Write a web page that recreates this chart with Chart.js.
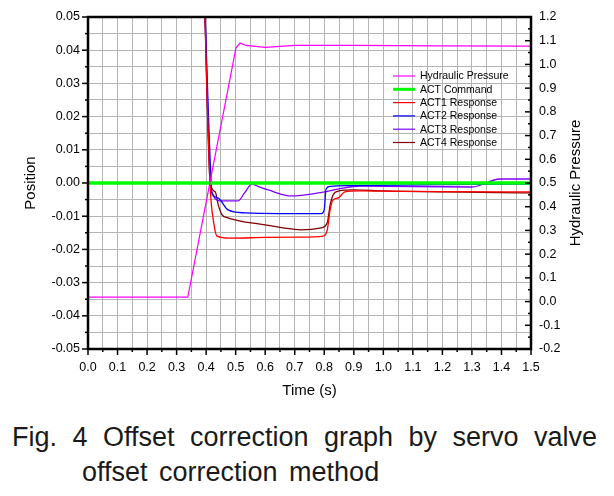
<!DOCTYPE html>
<html>
<head>
<meta charset="utf-8">
<script src="https://cdn.jsdelivr.net/npm/chart.js@4.4.0/dist/chart.umd.min.js"></script>
<style>
body { margin: 0; background: #fff; width: 614px; height: 496px; overflow: hidden; position: relative; font-family: "Liberation Sans", Arial, sans-serif; }
#wrap { position: absolute; left: 0; top: 0; width: 614px; height: 400px; }
.cap { position: absolute; font-size: 27px; color: #1a1a1a; line-height: 35px; }
#l1 { top: 420px; left: 12px; width: 585px; text-align: justify; text-align-last: justify; }
#l2 { top: 455px; left: 82px; white-space: nowrap; word-spacing: 4px; }
</style>
</head>
<body>
<div id="wrap"><canvas id="posChart" width="614" height="400"></canvas></div>
<div class="cap" id="l1">Fig. 4 Offset correction graph by servo valve</div>
<div class="cap" id="l2">offset correction method</div>
<script>
// values
const pressureTime  = [0, 0.338, 0.412, 0.501, 0.515, 0.535, 0.6, 0.7, 0.9, 1.2, 1.5];
const pressureValue = [0.019, 0.019, 0.496, 1.07, 1.09, 1.08, 1.072, 1.08, 1.08, 1.078, 1.077];

const commandTime  = [0, 1.5];
const commandValue = [0, 0];

const act1Time  = [0.393, 0.413, 0.427, 0.437, 0.48, 0.6, 0.718, 0.796, 0.81, 0.82, 0.83, 0.847, 0.87, 0.92, 1.2, 1.5];
const act1Value = [0.06, 0, -0.0127, -0.016, -0.0166, -0.0164, -0.0163, -0.016, -0.0142, -0.008, -0.0051, -0.0045, -0.0027, -0.0024, -0.0026, -0.0027];

const act2Time  = [0.393, 0.417, 0.42, 0.44, 0.474, 0.532, 0.65, 0.79, 0.8, 0.806, 0.82, 0.9, 1.2, 1.5];
const act2Value = [0.06, 0, -0.003, -0.0045, -0.0081, -0.009, -0.0092, -0.0092, -0.008, -0.0018, -0.001, -0.0008, -0.0005, -0.0003];

const act3Time  = [0.393, 0.415, 0.425, 0.447, 0.508, 0.53, 0.555, 0.58, 0.61, 0.69, 0.78, 0.85, 0.92, 1.3, 1.395, 1.5];
const act3Value = [0.06, 0, -0.004, -0.0054, -0.0054, -0.003, -0.0003, -0.0012, -0.0021, -0.0039, -0.003, -0.0018, -0.0009, -0.0012, 0.0012, 0.0012];

const act4Time  = [0.393, 0.414, 0.431, 0.441, 0.454, 0.474, 0.53, 0.6, 0.66, 0.72, 0.79, 0.81, 0.82, 0.83, 0.85, 0.9, 1.0, 1.5];
const act4Value = [0.06, 0, -0.0027, -0.0066, -0.0096, -0.0105, -0.0117, -0.0126, -0.0135, -0.0141, -0.0135, -0.012, -0.0066, -0.0036, -0.0024, -0.0021, -0.0024, -0.003];

const seriesLabels = ['Hydraulic Pressure', 'ACT Command', 'ACT1 Response', 'ACT2 Response', 'ACT3 Response', 'ACT4 Response'];
const seriesColors = ['#ff00ff', '#00ff00', '#ff0000', '#0000ff', '#8000ff', '#800000'];

function pts(xs, ys) {
    return xs.map((x, i) => ({ x: x, y: ys[i] }));
}

const isMajorX = v => Math.round(v * 100) % 10 === 0;
const isMajorY = v => Math.round(v * 1000) % 10 === 0;
const isMajorY1 = v => Math.round(v * 100) % 10 === 0;

const decor = {
    id: 'decor',
    afterDatasetsDraw(chart) {
        const { ctx, chartArea: a, scales } = chart;
        ctx.save();
        ctx.strokeStyle = '#000';
        ctx.lineWidth = 1.5;
        scales.x.ticks.forEach(t => {
            const px = scales.x.getPixelForValue(t.value);
            ctx.beginPath();
            ctx.moveTo(px, a.bottom);
            ctx.lineTo(px, a.bottom + (isMajorX(t.value) ? 6 : 3));
            ctx.stroke();
        });
        scales.y.ticks.forEach(t => {
            const py = scales.y.getPixelForValue(t.value);
            ctx.beginPath();
            ctx.moveTo(a.left, py);
            ctx.lineTo(a.left - (isMajorY(t.value) ? 6 : 3), py);
            ctx.stroke();
        });
        scales.y1.ticks.forEach(t => {
            const py = scales.y1.getPixelForValue(t.value);
            ctx.beginPath();
            ctx.moveTo(a.right, py);
            ctx.lineTo(a.right - (isMajorY1(t.value) ? 6 : 3), py);
            ctx.stroke();
        });
        ctx.lineWidth = 2.5;
        ctx.strokeRect(a.left, a.top, a.right - a.left, a.bottom - a.top);
        ctx.restore();
    },
    afterDraw(chart) {
        const { ctx, chartArea: a } = chart;
        ctx.save();
        // legend
        ctx.font = '10.5px "Liberation Sans", Arial, sans-serif';
        ctx.textBaseline = 'middle';
        ctx.fillStyle = '#000';
        chart.data.datasets.forEach((ds, i) => {
            const y = 76 + i * 13.3;
            ctx.strokeStyle = ds.borderColor;
            ctx.lineWidth = i === 1 ? 3 : 1.2;
            ctx.beginPath();
            ctx.moveTo(393, y);
            ctx.lineTo(415, y);
            ctx.stroke();
            ctx.fillText(ds.label, 420, y + 0.5);
        });
        // axis titles
        ctx.font = '15px "Liberation Sans", Arial, sans-serif';
        ctx.textAlign = 'center';
        ctx.fillText('Time (s)', (a.left + a.right) / 2, 391);
        ctx.translate(31, (a.top + a.bottom) / 2);
        ctx.rotate(-Math.PI / 2);
        ctx.fillText('Position', 0, 0);
        ctx.rotate(Math.PI / 2);
        ctx.translate(576 - 31, 0);
        ctx.rotate(-Math.PI / 2);
        ctx.fillText('Hydraulic Pressure', 0, 0);
        ctx.restore();
    }
};

const tickFont = { family: '"Liberation Sans", Arial, sans-serif', size: 12.5 };

const ctx = document.getElementById('posChart').getContext('2d');

const posChart = new Chart(ctx, {
    type: 'line',
    data: {
        datasets: [
            { label: seriesLabels[0], data: pts(pressureTime, pressureValue), yAxisID: 'y1', borderColor: seriesColors[0], borderWidth: 1.2, cubicInterpolationMode: 'default', tension: 0 },
            { label: seriesLabels[1], data: pts(commandTime, commandValue), yAxisID: 'y', borderColor: seriesColors[1], borderWidth: 3.5 },
            { label: seriesLabels[2], data: pts(act1Time, act1Value), yAxisID: 'y', borderColor: seriesColors[2], borderWidth: 1.3 },
            { label: seriesLabels[3], data: pts(act2Time, act2Value), yAxisID: 'y', borderColor: seriesColors[3], borderWidth: 1.3 },
            { label: seriesLabels[4], data: pts(act3Time, act3Value), yAxisID: 'y', borderColor: seriesColors[4], borderWidth: 1.3 },
            { label: seriesLabels[5], data: pts(act4Time, act4Value), yAxisID: 'y', borderColor: seriesColors[5], borderWidth: 1.3 }
        ]
    },
    options: {
        responsive: false,
        animation: false,
        layout: { padding: { top: 17, left: 0, right: 0, bottom: 0 } },
        elements: {
            point: { radius: 0 },
            line: { cubicInterpolationMode: 'monotone', fill: false }
        },
        plugins: {
            legend: { display: false },
            tooltip: { enabled: false }
        },
        scales: {
            x: {
                type: 'linear',
                min: 0,
                max: 1.5,
                afterFit: s => { s.height = 51; },
                grid: { color: '#b4b4b4', drawTicks: false },
                border: { display: false },
                ticks: {
                    stepSize: 0.05,
                    autoSkip: false,
                    maxRotation: 0,
                    padding: 11,
                    color: '#000',
                    font: tickFont,
                    callback: v => isMajorX(v) ? v.toFixed(1) : ''
                }
            },
            y: {
                position: 'left',
                min: -0.05,
                max: 0.05,
                afterFit: s => { s.width = 88; },
                grid: { color: '#b4b4b4', drawTicks: false },
                border: { display: false },
                ticks: {
                    stepSize: 0.005,
                    autoSkip: false,
                    padding: 8,
                    color: '#000',
                    font: tickFont,
                    callback: v => isMajorY(v) ? (Math.abs(v) < 1e-9 ? '0.00' : v.toFixed(2)) : ''
                }
            },
            y1: {
                position: 'right',
                min: -0.2,
                max: 1.2,
                afterFit: s => { s.width = 83; },
                grid: { drawOnChartArea: false, drawTicks: false },
                border: { display: false },
                ticks: {
                    stepSize: 0.05,
                    autoSkip: false,
                    padding: 8,
                    color: '#000',
                    font: tickFont,
                    callback: v => isMajorY1(v) ? (Math.abs(v) < 1e-9 ? '0.0' : v.toFixed(1)) : ''
                }
            }
        }
    },
    plugins: [decor]
});
</script>
</body>
</html>
